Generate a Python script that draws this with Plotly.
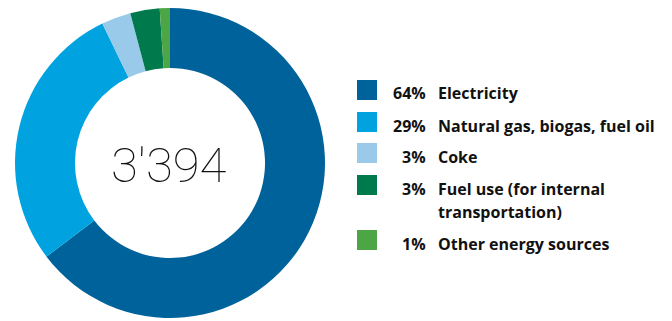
import plotly.graph_objects as go

# Data
categories = ["Electricity", "Natural gas, biogas, fuel oil", "Coke",
              "Fuel use (for internal\ntransportation)", "Other energy sources"]
values = [2195, 955, 104, 104, 36]
pct_labels = ["64%", "29%", "3%", "3%", "1%"]
colors = ["#00629B", "#00A3DF", "#9ACAEA", "#007A4D", "#4CA646"]

W, H = 672, 321
total = sum(values)
center_text = f"{total:,}".replace(",", "'")

fig = go.Figure(go.Pie(
    values=values,
    labels=[c.replace("\n", " ") for c in categories],
    marker=dict(colors=colors, line=dict(width=0)),
    hole=0.613,
    sort=False,
    direction="clockwise",
    rotation=0,
    textinfo="none",
    hoverinfo="label+value+percent",
    showlegend=False,
    domain=dict(x=[15 / W, 325 / W], y=[1 - 318 / H, 1 - 8 / H]),
))

def px(x):
    return x / W

def py(y):
    return 1 - y / H

annotations = []
shapes = []
# Centre total
annotations.append(dict(
    x=px(169), y=py(165.5), xref="paper", yref="paper", text=center_text,
    showarrow=False, xanchor="center", yanchor="middle",
    font=dict(family="Roboto", size=49, color="#111111", weight=100),
))

# Legend rows
square_tops = [80, 112, 143, 175, 230]
sq = 20
line_gap = 23.5
font_leg = dict(family="Open Sans", size=16, color="#111111", weight=700)
for i, (cat, pct, col) in enumerate(zip(categories, pct_labels, colors)):
    top = square_tops[i]
    shapes.append(dict(type="rect", xref="paper", yref="paper",
                       x0=px(357), x1=px(377), y0=py(top + sq), y1=py(top),
                       fillcolor=col, line=dict(width=0)))
    ty = top + sq - 6.5
    annotations.append(dict(
        x=px(428), y=py(ty), xref="paper", yref="paper", text=pct,
        showarrow=False, xanchor="right", yanchor="middle", font=font_leg,
    ))
    for j, line in enumerate(cat.split("\n")):
        annotations.append(dict(
            x=px(436), y=py(ty + j * line_gap), xref="paper", yref="paper",
            text=line, showarrow=False, xanchor="left", yanchor="middle",
            font=font_leg,
        ))

fig.update_layout(
    width=W, height=H,
    margin=dict(l=0, r=0, t=0, b=0),
    paper_bgcolor="white", plot_bgcolor="white",
    annotations=annotations, shapes=shapes,
)

fig.write_html("out.html")
